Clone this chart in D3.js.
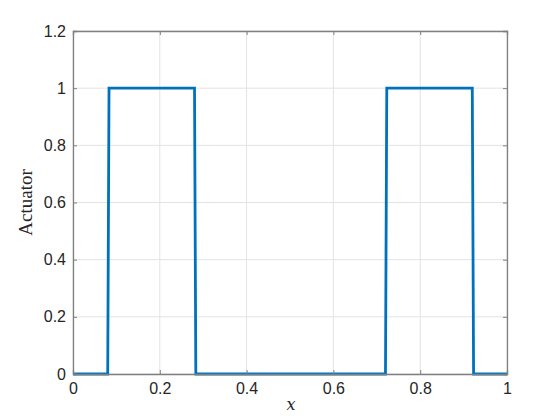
<!DOCTYPE html>
<html>
<head>
<meta charset="utf-8">
<script src="https://cdn.jsdelivr.net/npm/d3@7"></script>
<style>
  body { margin: 0; background: #fff; }
  .tick text { font-family: "Liberation Sans", Helvetica, Arial, sans-serif; font-size: 16px; fill: #262626; }
</style>
</head>
<body>
<div id="chart"></div>
<script>
// actuator on/off switching points
var xs = [0, 0.08, 0.083, 0.28, 0.283, 0.72, 0.723, 0.92, 0.923, 1];
var ys = [0, 0, 1, 1, 0, 0, 1, 1, 0, 0];
var xTicks = [0, 0.2, 0.4, 0.6, 0.8, 1];
var yTicks = [0, 0.2, 0.4, 0.6, 0.8, 1, 1.2];

var W = 560, H = 420;
var margin = { top: 31, right: 53, bottom: 46, left: 73 };
var width = W - margin.left - margin.right;
var height = H - margin.top - margin.bottom;

var svg = d3.select("#chart").append("svg")
  .attr("width", W).attr("height", H);
var g = svg.append("g")
  .attr("transform", "translate(" + margin.left + "," + margin.top + ")");

var x = d3.scaleLinear().domain([0, 1]).range([0, width]);
var y = d3.scaleLinear().domain([0, 1.2]).range([height, 0]);

// grid
g.append("g").selectAll("line").data(xTicks).enter().append("line")
  .attr("x1", d => x(d)).attr("x2", d => x(d))
  .attr("y1", 0).attr("y2", height)
  .attr("stroke", "#e3e3e3").attr("stroke-width", 1);
g.append("g").selectAll("line").data(yTicks).enter().append("line")
  .attr("y1", d => y(d)).attr("y2", d => y(d))
  .attr("x1", 0).attr("x2", width)
  .attr("stroke", "#e3e3e3").attr("stroke-width", 1);

// line
var pts = xs.map((v, i) => [v, ys[i]]);
g.append("path")
  .datum(pts)
  .attr("fill", "none")
  .attr("stroke", "#0072BD")
  .attr("stroke-width", 2.8)
  .attr("stroke-linejoin", "miter")
  .attr("d", d3.line().x(d => x(d[0])).y(d => y(d[1])));

// axes (ticks inward, box on)
var axColor = "#808080";
var xb = g.append("g").attr("transform", "translate(0," + height + ")")
  .call(d3.axisBottom(x).tickValues(xTicks).tickSize(-4).tickPadding(9).tickFormat(d3.format("~g")));
var yl = g.append("g")
  .call(d3.axisLeft(y).tickValues(yTicks).tickSize(-4).tickPadding(7).tickFormat(d3.format("~g")));
var xt = g.append("g")
  .call(d3.axisTop(x).tickValues(xTicks).tickSize(-4).tickFormat(""));
var yr = g.append("g").attr("transform", "translate(" + width + ",0)")
  .call(d3.axisRight(y).tickValues(yTicks).tickSize(-4).tickFormat(""));
[xb, yl, xt, yr].forEach(function(a) {
  a.select(".domain").attr("stroke", axColor).attr("stroke-width", 1.3);
  a.selectAll(".tick line").attr("stroke", axColor);
});

// labels
svg.append("text")
  .attr("x", margin.left + width / 2 + 1).attr("y", 410)
  .attr("text-anchor", "middle")
  .style("font-family", "'DejaVu Serif', 'Liberation Serif', serif")
  .style("font-style", "italic")
  .style("font-size", "16px").attr("fill", "#262626")
  .text("x");
svg.append("text")
  .attr("transform", "translate(32," + (margin.top + height / 2) + ") rotate(-90)")
  .attr("text-anchor", "middle")
  .style("font-family", "'Liberation Serif', 'DejaVu Serif', serif")
  .style("font-size", "19px").attr("fill", "#262626")
  .text("Actuator");
</script>
</body>
</html>
